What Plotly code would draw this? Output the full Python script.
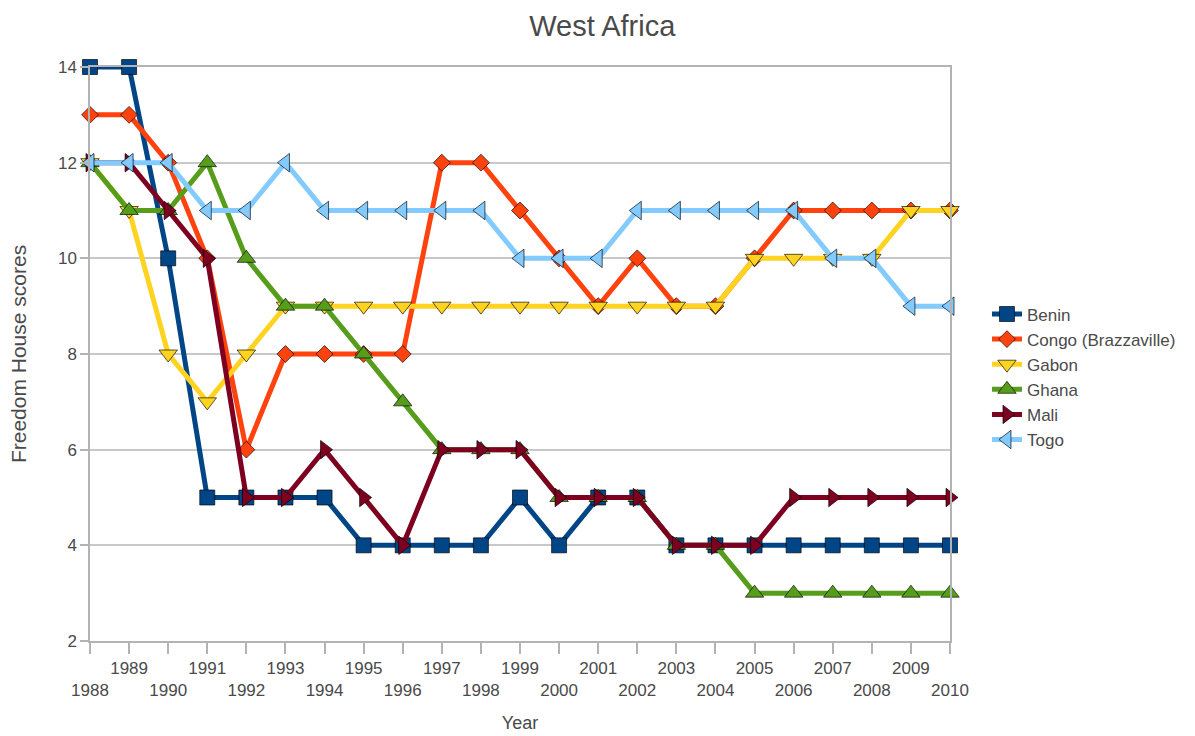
import plotly.graph_objects as go

years = list(range(1988, 2011))

benin = [14, 14, 10, 5, 5, 5, 5, 4, 4, 4, 4, 5, 4, 5, 5, 4, 4, 4, 4, 4, 4, 4, 4]
congo = [13, 13, 12, 10, 6, 8, 8, 8, 8, 12, 12, 11, 10, 9, 10, 9, 9, 10, 11, 11, 11, 11, 11]
gabon = [12, 11, 8, 7, 8, 9, 9, 9, 9, 9, 9, 9, 9, 9, 9, 9, 9, 10, 10, 10, 10, 11, 11]
ghana = [12, 11, 11, 12, 10, 9, 9, 8, 7, 6, 6, 6, 5, 5, 5, 4, 4, 3, 3, 3, 3, 3, 3]
mali = [12, 12, 11, 10, 5, 5, 6, 5, 4, 6, 6, 6, 5, 5, 5, 4, 4, 4, 5, 5, 5, 5, 5]
togo = [12, 12, 12, 11, 11, 12, 11, 11, 11, 11, 11, 10, 10, 10, 11, 11, 11, 11, 11, 10, 10, 9, 9]

series_names = ["Benin", "Congo (Brazzaville)", "Gabon", "Ghana", "Mali", "Togo"]
series_values = [benin, congo, gabon, ghana, mali, togo]
series_colors = ["#004586", "#ff420e", "#ffd320", "#579d1c", "#7e0021", "#83caff"]
series_symbols = ["square", "diamond", "triangle-down", "triangle-up", "triangle-right", "triangle-left"]
series_sizes = [15, 13, 16, 16, 16, 16]

y_ticks = [2, 4, 6, 8, 10, 12, 14]
tick_text = [str(y) if y % 2 == 1 else "<br>" + str(y) for y in years]

FONT = "Liberation Sans, Arial, sans-serif"
TXT = "#4a4a4a"

fig = go.Figure()
for name, vals, col, sym, sz in zip(series_names, series_values, series_colors, series_symbols, series_sizes):
    fig.add_trace(go.Scatter(
        x=years, y=vals, name=name, mode="lines+markers",
        line=dict(color=col, width=5),
        marker=dict(symbol=sym, size=sz, color=col,
                    line=dict(color="rgba(0,0,0,0.65)", width=1)),
        cliponaxis=False,
    ))

fig.update_layout(
    width=1195, height=736,
    margin=dict(l=90, r=245, t=67, b=95, autoexpand=False),
    paper_bgcolor="white", plot_bgcolor="white",
    font=dict(family=FONT, color=TXT, size=17),
    title=dict(text="West Africa", x=0.504, xref="container", xanchor="center",
               y=1 - 26 / 736, yref="container", yanchor="middle",
               font=dict(size=29, color=TXT, family=FONT)),
    showlegend=True,
    legend=dict(x=1.043, xanchor="left", y=0.46, yanchor="middle",
                font=dict(size=17, color=TXT, family=FONT),
                itemwidth=30, bgcolor="rgba(0,0,0,0)", tracegroupgap=0),
)

fig.update_xaxes(
    range=[1988, 2010], tickmode="array", tickvals=years, ticktext=tick_text,
    showgrid=False, zeroline=False, showline=True, linecolor="#b3b3b3", linewidth=1.5,
    mirror=True, ticks="outside", ticklen=11, tickcolor="#b3b3b3", tickwidth=1.5,
    tickangle=0, tickfont=dict(size=17, color=TXT),
    title=dict(text="Year", font=dict(size=18, color=TXT), standoff=17),
    automargin=False,
)
fig.update_yaxes(
    range=[2, 14], tickmode="array", tickvals=y_ticks,
    showgrid=True, gridcolor="#c8c8c8", gridwidth=1.5, zeroline=False,
    showline=True, linecolor="#b3b3b3", linewidth=1.5, mirror=True,
    ticks="outside", ticklen=8, tickcolor="#b3b3b3", tickwidth=1.5,
    tickfont=dict(size=17, color=TXT),
    title=dict(text="Freedom House scores", font=dict(size=21, color=TXT), standoff=26),
    automargin=False,
)

fig.write_html("out.html")
